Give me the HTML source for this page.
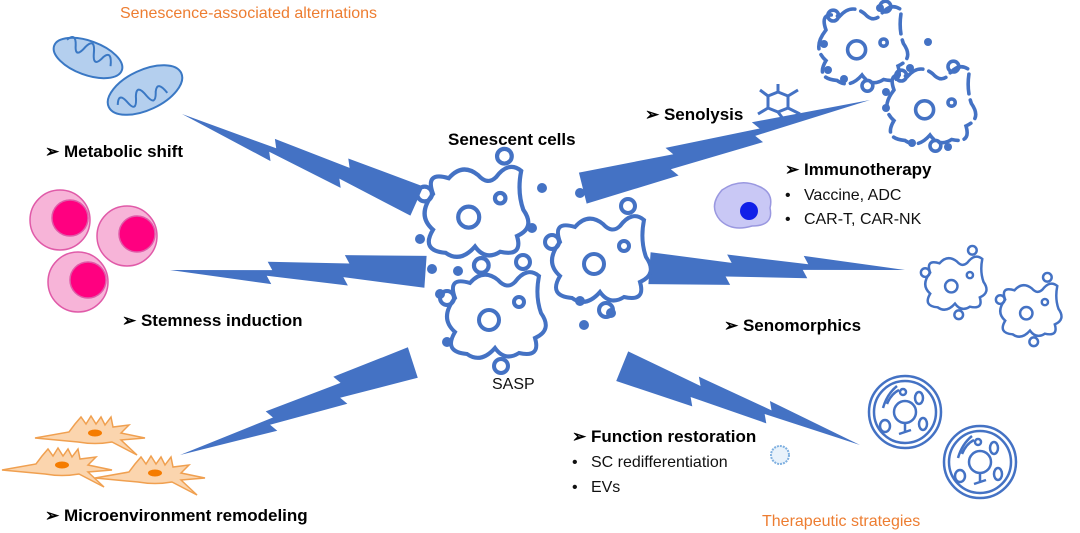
<!DOCTYPE html>
<html><head><meta charset="utf-8"><style>
html,body{margin:0;padding:0;background:#fff;}
svg{display:block;font-family:"Liberation Sans",Arial,sans-serif;}
.b{font-weight:bold;font-size:17px;fill:#000}
.n{font-size:16px;fill:#111}
.o{font-size:16px;fill:#ed7d31}
</style></head><body>
<svg width="1080" height="533" viewBox="0 0 1080 533" xmlns="http://www.w3.org/2000/svg">
<defs>
<polygon id="bolt" fill="#4472c4" points="0,0 100,-7 95,-15 175,-19 170,-27 250,-32 250,0 170,-5 175,3 95,-1 100,7"/>
<g id="cell" fill="none" stroke="#4472c4" stroke-width="4" stroke-linecap="round">
<path d="M-40,-20 Q-48,-42 -25,-35 Q-12,-50 3,-38 Q12,-28 20,-36 Q32,-52 44,-42 Q40,-22 46,-5 Q58,12 40,20 Q46,40 24,35 Q10,44 0,30 Q-14,46 -28,36 Q-52,34 -40,14 Q-56,0 -40,-20 Z"/>
<circle cx="-6" cy="2" r="10"/>
<circle cx="24" cy="-16" r="5"/>
<circle cx="-48" cy="-20" r="7"/>
<circle cx="28" cy="-56" r="7"/>
<circle cx="6" cy="48" r="7"/>
</g>
<g id="dcell" fill="none" stroke="#4472c4" stroke-width="4" stroke-linecap="round" stroke-dasharray="22 7">
<path d="M-40,-20 Q-48,-42 -25,-35 Q-12,-50 3,-38 Q12,-28 20,-36 Q32,-52 44,-42 Q40,-22 46,-5 Q58,12 40,20 Q46,40 24,35 Q10,44 0,30 Q-14,46 -28,36 Q-52,34 -40,14 Q-56,0 -40,-20 Z"/>
<circle cx="-6" cy="2" r="10" stroke-dasharray="none"/>
<circle cx="24" cy="-6" r="4" stroke-dasharray="none"/>
<circle cx="-32" cy="-36" r="6" stroke-dasharray="none"/>
<circle cx="26" cy="-46" r="6" stroke-dasharray="none"/>
<circle cx="6" cy="42" r="6" stroke-dasharray="none"/>
</g>
<g id="rcell" fill="none" stroke="#4472c4" stroke-width="2.5">
<circle r="36"/><circle r="31"/>
<circle r="11"/><circle cx="-2" cy="-20" r="3"/>
<ellipse cx="14" cy="-14" rx="4" ry="6"/><ellipse cx="18" cy="12" rx="4" ry="6"/><ellipse cx="-20" cy="14" rx="5" ry="6"/>
<path d="M-18,-8 Q-14,-18 -6,-22 M-22,-4 Q-18,-18 -8,-26 M0,12 L0,20 M-6,22 L6,18"/>
</g>
<g id="fib" fill="#fbd5ae" stroke="#f0a050" stroke-width="1.5">
<path d="M-60,8 L-26,2 L-20,-6 L-14,-13 L-9,-6 L-4,-14 L1,-6 L6,-13 L10,-5 L16,-13 L18,-3 L34,-5 L26,3 L50,8 L26,10 L42,25 L17,12 Q0,15 -17,12 Z"/>
<ellipse cx="0" cy="3" rx="7" ry="3.5" fill="#f57c00" stroke="none"/>
</g>
</defs>

<!-- bolts -->
<use href="#bolt" transform="translate(182,114) rotate(24) scale(1.0,1.0)"/>
<use href="#bolt" transform="translate(170,270) rotate(4) scale(1.02,1.0)"/>
<use href="#bolt" transform="translate(180,455) rotate(-18) scale(1.0,1.0)"/>
<use href="#bolt" transform="translate(870,100) rotate(166) scale(1.2,1.0)"/>
<use href="#bolt" transform="translate(905,270) rotate(184) scale(1.02,1.0)"/>
<use href="#bolt" transform="translate(860,445) rotate(202) scale(1.0,1.0)"/>

<!-- mitochondria -->
<g fill="#b4cfee" stroke="#3a78c4" stroke-width="2">
<ellipse cx="88" cy="58" rx="36" ry="17" transform="rotate(20 88 58)"/>
<ellipse cx="145" cy="90" rx="40" ry="20" transform="rotate(-25 145 90)"/>
</g>
<g fill="none" stroke="#3a78c4" stroke-width="2">
<path d="M62,48 q6,-10 10,2 q4,14 10,-2 q6,-12 10,4 q4,14 10,0 q6,-10 10,6" transform="rotate(20 88 58)"/>
<path d="M114,92 q6,-12 10,2 q4,14 10,-2 q6,-12 10,4 q4,14 10,0 q6,-10 10,6" transform="rotate(-25 145 90)"/>
</g>

<!-- pink cells -->
<g stroke="#e05aa8" stroke-width="1.5">
<circle cx="60" cy="220" r="30" fill="#f7b4d8"/><circle cx="70" cy="218" r="18" fill="#ff0080"/>
<circle cx="127" cy="236" r="30" fill="#f7b4d8"/><circle cx="137" cy="234" r="18" fill="#ff0080"/>
<circle cx="78" cy="282" r="30" fill="#f7b4d8"/><circle cx="88" cy="280" r="18" fill="#ff0080"/>
</g>

<!-- fibroblasts -->
<use href="#fib" transform="translate(95,430)"/>
<use href="#fib" transform="translate(62,462)"/>
<use href="#fib" transform="translate(155,470)"/>

<!-- center cells -->
<use href="#cell" transform="translate(475,215) scale(1.05)"/>
<use href="#cell" transform="translate(600,262) scale(1.0)"/>
<use href="#cell" transform="translate(495,318) scale(1.0)"/>
<g fill="#4472c4">
<circle cx="542" cy="188" r="5"/><circle cx="580" cy="193" r="5"/><circle cx="532" cy="228" r="5"/>
<circle cx="420" cy="239" r="5"/><circle cx="432" cy="269" r="5"/><circle cx="458" cy="271" r="5"/>
<circle cx="440" cy="294" r="5"/><circle cx="447" cy="342" r="5"/><circle cx="580" cy="301" r="5"/>
<circle cx="611" cy="313" r="5"/><circle cx="584" cy="325" r="5"/>
</g>

<!-- top right dead cells -->
<use href="#dcell" transform="translate(862,48) scale(0.9)"/>
<use href="#dcell" transform="translate(930,108) scale(0.9)"/>
<g fill="#4472c4">
<circle cx="880" cy="8" r="4"/><circle cx="824" cy="44" r="4"/><circle cx="828" cy="70" r="4"/>
<circle cx="844" cy="79" r="4"/><circle cx="928" cy="42" r="4"/><circle cx="910" cy="68" r="4"/>
<circle cx="886" cy="92" r="4"/><circle cx="886" cy="108" r="4"/><circle cx="912" cy="143" r="4"/><circle cx="948" cy="147" r="4"/>
</g>
<!-- molecule -->
<g stroke="#4472c4" stroke-width="3" fill="none">
<polygon points="778,92 788,96 788,108 778,112 768,108 768,96"/>
<path d="M778,92 L778,84 M788,96 L798,90 M788,108 L800,114 M768,108 L758,114 M768,96 L760,90 M778,112 L784,120"/>
</g>
<!-- immune cell -->
<path d="M722,190 Q740,178 758,186 Q774,192 770,208 Q774,226 752,226 Q732,232 720,220 Q708,206 722,190Z" fill="#c9c8f5" stroke="#9a98e0" stroke-width="1.5"/>
<circle cx="749" cy="211" r="9" fill="#1020e8"/>

<!-- right small cells -->
<use href="#cell" transform="translate(955,285) scale(0.62)"/>
<use href="#cell" transform="translate(1030,312) scale(0.62)"/>

<!-- round cells -->
<use href="#rcell" transform="translate(905,412)"/>
<use href="#rcell" transform="translate(980,462)"/>
<circle cx="780" cy="455" r="9" fill="#e8f2fb" stroke="#7fb0e0" stroke-width="2" stroke-dasharray="2 1"/>

<!-- text -->
<text class="o" x="120" y="18">Senescence-associated alternations</text>
<text class="b" x="45" y="157">➢ Metabolic shift</text>
<text class="b" x="122" y="326">➢ Stemness induction</text>
<text class="b" x="45" y="521">➢ Microenvironment remodeling</text>
<text class="b" x="448" y="145">Senescent cells</text>
<text class="n" x="492" y="389">SASP</text>
<text class="b" x="645" y="120">➢ Senolysis</text>
<text class="b" x="785" y="175">➢ Immunotherapy</text>
<text class="n" x="785" y="200">•&#160;&#160;&#160;Vaccine, ADC</text>
<text class="n" x="785" y="224">•&#160;&#160;&#160;CAR-T, CAR-NK</text>
<text class="b" x="724" y="331">➢ Senomorphics</text>
<text class="b" x="572" y="442">➢ Function restoration</text>
<text class="n" x="572" y="467">•&#160;&#160;&#160;SC redifferentiation</text>
<text class="n" x="572" y="492">•&#160;&#160;&#160;EVs</text>
<text class="o" x="762" y="526">Therapeutic strategies</text>
</svg>
</body></html>
